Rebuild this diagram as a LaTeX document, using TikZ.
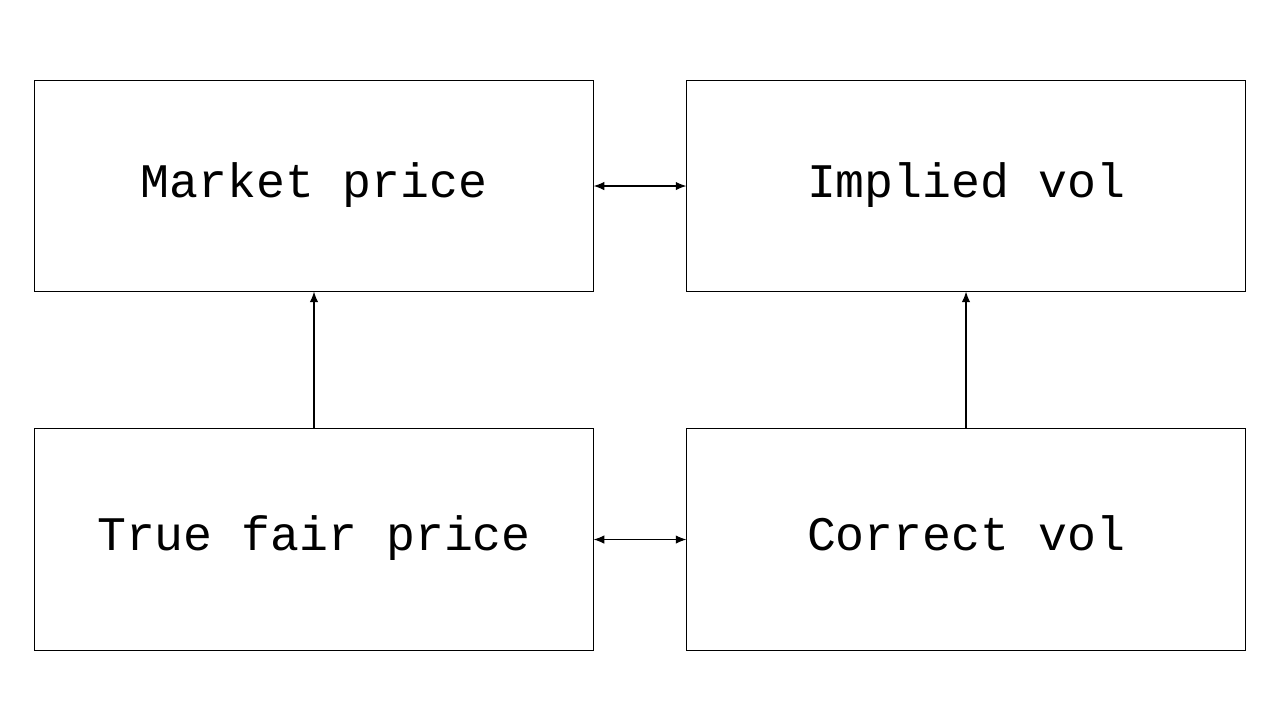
\documentclass[tikz,border=0pt]{standalone}
\usepackage{fontspec}
\setmonofont{Liberation Mono}
\usetikzlibrary{positioning, arrows.meta}

\begin{document}
\begin{tikzpicture}[
  x=0.01cm, y=-0.01cm,
  box/.style={draw, line width=0.3pt, minimum width=5.58cm, minimum height=2.1cm,
              inner sep=0pt, text height=1.75ex, text depth=0.3ex, align=center,
              font=\ttfamily\fontsize{13.7pt}{16pt}\selectfont},
  tallbox/.style={box, minimum height=2.21cm},
  arr/.style={-{Latex[length=3pt, width=2.4pt]}, line width=0.3pt},
  biarr/.style={{Latex[length=3pt, width=2.4pt]}-{Latex[length=3pt, width=2.4pt]}, line width=0.3pt},
]
\useasboundingbox (0,0) rectangle (1280,720);

% Top row
\node[box] (mkt) at (314,186) {Market price};
\node[box] (iv) at (966,186) {Implied vol};

% Bottom row
\node[tallbox] (fair) at (314,539.5) {True fair price};
\node[tallbox] (cv) at (966,539.5) {Correct vol};

% Arrows
\draw[biarr] (mkt.east) -- (iv.west);
\draw[biarr] (fair.east) -- (cv.west);
\draw[arr] (fair.north) -- (mkt.south);
\draw[arr] (cv.north) -- (iv.south);

\end{tikzpicture}
\end{document}
